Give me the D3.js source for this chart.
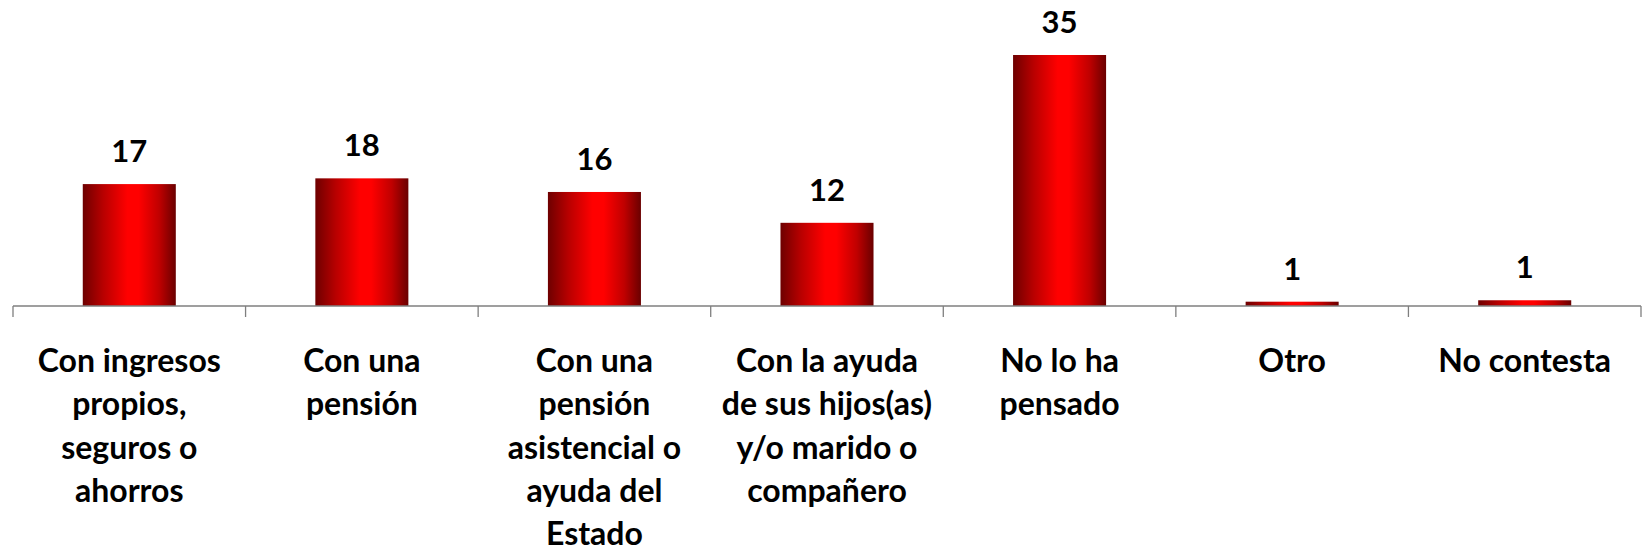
<!DOCTYPE html>
<html>
<head>
<meta charset="utf-8">
<script src="https://cdn.jsdelivr.net/npm/d3@7"></script>
<style>
  body { margin: 0; background: #fff; }
  svg { display: block; }
  text { font-family: Lato, "Open Sans", sans-serif; font-weight: 700; fill: #000; }
</style>
</head>
<body>
<div id="chart"></div>
<script>
// categories (line breaks as in the picture)
const categories = [
  "Con ingresos\npropios,\nseguros o\nahorros",
  "Con una\npensión",
  "Con una\npensión\nasistencial o\nayuda del\nEstado",
  "Con la ayuda\nde sus hijos(as)\ny/o marido o\ncompañero",
  "No lo ha\npensado",
  "Otro",
  "No contesta"
];
// percentages
const values = [17, 17.8, 15.9, 11.6, 35, 0.6, 0.8];

const width = 1643, height = 552;
const margin = {left: 13, right: 2, top: 55, bottom: 246};
const baseY = height - margin.bottom;

const svg = d3.select('#chart').append('svg')
  .attr('width', width)
  .attr('height', height);

// horizontal bar gradient, dark edges and bright red centre
const grad = svg.append('defs').append('linearGradient')
  .attr('id', 'barGrad')
  .attr('x1', '0%').attr('x2', '100%').attr('y1', '0%').attr('y2', '0%');
[[0, '#6e0000'], [0.22, '#b80000'], [0.48, '#ff0000'], [0.6, '#ff0000'], [0.82, '#c00000'], [1, '#6a0000']]
  .forEach(s => grad.append('stop').attr('offset', s[0]).attr('stop-color', s[1]));

const x = d3.scaleBand()
  .domain(categories)
  .range([margin.left, width - margin.right])
  .paddingInner(0.6)
  .paddingOuter(0.3);

const y = d3.scaleLinear()
  .domain([0, 35])
  .range([baseY, margin.top]);

const step = x.step();

// bars
svg.append('g').selectAll('rect')
  .data(values)
  .enter().append('rect')
  .attr('x', (d, i) => x(categories[i]))
  .attr('y', d => y(d))
  .attr('width', x.bandwidth())
  .attr('height', d => baseY - y(d))
  .attr('fill', 'url(#barGrad)');

// value labels
svg.append('g').selectAll('text')
  .data(values)
  .enter().append('text')
  .attr('x', (d, i) => x(categories[i]) + x.bandwidth() / 2)
  .attr('y', d => y(d) - 22)
  .attr('text-anchor', 'middle')
  .style('font-size', '31px')
  .text(d => d3.format('.0f')(d));

// axis line and boundary ticks
const axis = svg.append('g').attr('class', 'x axis');
axis.append('line')
  .attr('x1', x.range()[0]).attr('x2', x.range()[1])
  .attr('y1', baseY).attr('y2', baseY)
  .attr('stroke', '#7f7f7f').attr('stroke-width', 1.3);

const edges = categories.map(c => x(c) - step * x.paddingInner() / 2);
edges.push(x.range()[1]);
edges[0] = x.range()[0];
axis.selectAll('line.tick')
  .data(edges)
  .enter().append('line')
  .attr('class', 'tick')
  .attr('x1', d => d).attr('x2', d => d)
  .attr('y1', baseY).attr('y2', baseY + 11)
  .attr('stroke', '#7f7f7f').attr('stroke-width', 1.3);

// category labels
const labels = axis.selectAll('text.cat')
  .data(categories)
  .enter().append('text')
  .attr('class', 'cat')
  .attr('text-anchor', 'middle')
  .attr('x', d => x(d) + x.bandwidth() / 2)
  .attr('y', baseY + 66)
  .style('font-size', '32px');

labels.selectAll('tspan')
  .data(d => d.split('\n'))
  .enter().append('tspan')
  .attr('x', function() { return this.parentNode.getAttribute('x'); })
  .attr('dy', (d, i) => i === 0 ? 0 : 43.3)
  .text(d => d);
</script>
</body>
</html>
